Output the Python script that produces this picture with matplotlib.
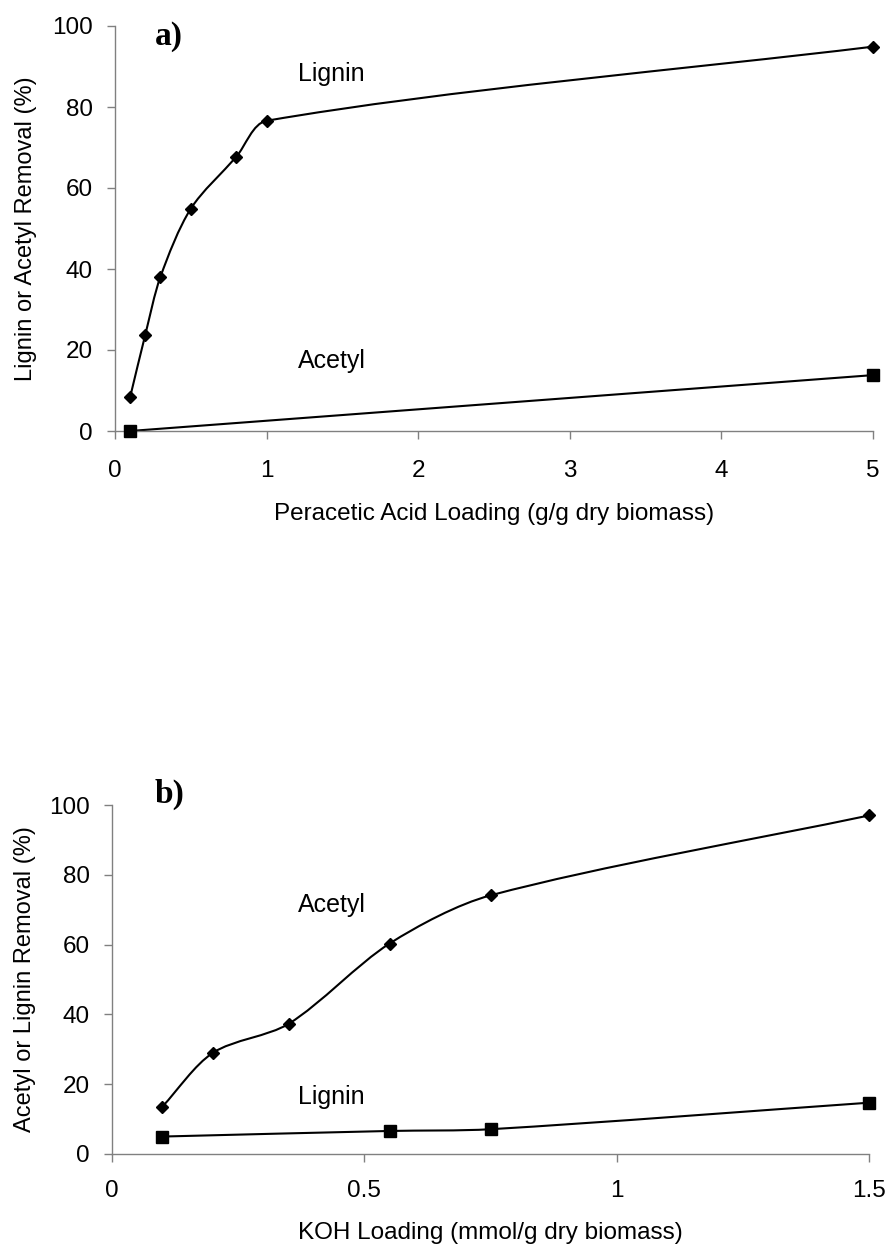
import numpy as np
import matplotlib
matplotlib.use("Agg")
import matplotlib.pyplot as plt
from matplotlib.path import Path
from matplotlib.patches import PathPatch

# ---------------- data ----------------
# Panel a: peracetic acid loading (g/g dry biomass)
a_lignin_x = [0.1, 0.2, 0.3, 0.5, 0.8, 1.0, 5.0]
a_lignin_y = [8.4, 23.8, 38.1, 54.9, 67.7, 76.6, 94.9]
a_acetyl_x = [0.1, 5.0]
a_acetyl_y = [0.0, 13.8]
a_xticks = [0, 1, 2, 3, 4, 5]
a_xticklabels = ["0", "1", "2", "3", "4", "5"]

# Panel b: KOH loading (mmol/g dry biomass)
b_acetyl_x = [0.1, 0.2, 0.35, 0.55, 0.75, 1.5]
b_acetyl_y = [13.6, 29.0, 37.3, 60.3, 74.1, 97.0]
b_lignin_x = [0.1, 0.55, 0.75, 1.5]
b_lignin_y = [5.0, 6.6, 7.1, 14.7]
b_xticks = [0, 0.5, 1, 1.5]
b_xticklabels = ["0", "0.5", "1", "1.5"]

y_ticks = [0, 20, 40, 60, 80, 100]
y_ticklabels = ["0", "20", "40", "60", "80", "100"]

# ---------------- style ----------------
SANS = ["Liberation Sans", "DejaVu Sans"]
SERIF = ["Liberation Serif", "DejaVu Serif"]
plt.rcParams["font.family"] = SANS
GREY = "#808080"

W, H = 887, 1249
fig = plt.figure(figsize=(W / 100, H / 100), dpi=100)


def add_axes_px(l, t, r, b):
    return fig.add_axes([l / W, 1 - b / H, (r - l) / W, (b - t) / H])


def smooth_line(ax, xs, ys, k=0.3, lw=1.5):
    """Excel-like smoothed line: cubic Bezier segments with tangents
    computed in screen space."""
    x0, x1 = ax.get_xlim()
    y0, y1 = ax.get_ylim()
    pos = ax.get_position()
    sx = pos.width * W / (x1 - x0)
    sy = pos.height * H / (y1 - y0)
    P = np.column_stack([np.asarray(xs, float) * sx, np.asarray(ys, float) * sy])
    n = len(P)
    if n == 2:
        verts = [tuple(P[0]), tuple(P[1])]
        codes = [Path.MOVETO, Path.LINETO]
    else:
        D = []
        for i in range(n):
            a = P[max(i - 1, 0)]
            b = P[min(i + 1, n - 1)]
            t = b - a
            D.append(t / np.hypot(*t))
        verts = [tuple(P[0])]
        codes = [Path.MOVETO]
        for i in range(n - 1):
            L = np.hypot(*(P[i + 1] - P[i]))
            c1 = P[i] + D[i] * L * k
            c2 = P[i + 1] - D[i + 1] * L * k
            verts += [tuple(c1), tuple(c2), tuple(P[i + 1])]
            codes += [Path.CURVE4] * 3
    verts = [(vx / sx, vy / sy) for vx, vy in verts]
    patch = PathPatch(Path(verts, codes), facecolor="none", edgecolor="black",
                      lw=lw, transform=ax.transData, clip_on=False, zorder=2,
                      capstyle="round", joinstyle="round")
    ax.add_patch(patch)


def style_axes(ax, xlim, xticks, xticklabels, xpad):
    ax.set_xlim(*xlim)
    ax.set_ylim(0, 100)
    ax.set_xticks(xticks)
    ax.set_xticklabels(xticklabels)
    ax.set_yticks(y_ticks)
    ax.set_yticklabels(y_ticklabels)
    for s in ("top", "right"):
        ax.spines[s].set_visible(False)
    for s in ("left", "bottom"):
        ax.spines[s].set_color(GREY)
        ax.spines[s].set_linewidth(1.0)
    ax.tick_params(axis="both", direction="out", length=6, width=1.0,
                   color=GREY, labelsize=17.5, labelcolor="black")
    ax.tick_params(axis="x", pad=xpad)
    ax.tick_params(axis="y", pad=10)
    ax.patch.set_alpha(0)


# ---------------- panel a ----------------
axA = add_axes_px(115, 26, 873, 431)
style_axes(axA, (0, 5), a_xticks, a_xticklabels, 15)
smooth_line(axA, a_lignin_x, a_lignin_y)
smooth_line(axA, a_acetyl_x, a_acetyl_y)
axA.plot(a_lignin_x, a_lignin_y, ls="none", marker="D", ms=6,
         color="black", clip_on=False, zorder=3)
axA.plot(a_acetyl_x, a_acetyl_y, ls="none", marker="s", ms=9,
         color="black", clip_on=False, zorder=3)
axA.text(0.26, 95.3, "a)", family=SERIF, fontweight="bold", fontsize=24,
         ha="left", va="baseline")
axA.text(1.21, 86.4, "Lignin", fontsize=18, ha="left", va="baseline")
axA.text(1.21, 15.5, "Acetyl", fontsize=18, ha="left", va="baseline")
axA.text(-0.117, 0.5, "Lignin or Acetyl Removal (%)", transform=axA.transAxes,
         rotation=90, ha="center", va="center", fontsize=17)
axA.text(0.5, -0.204, "Peracetic Acid Loading (g/g dry biomass)",
         transform=axA.transAxes, ha="center", va="center", fontsize=17.5)

# ---------------- panel b ----------------
axB = add_axes_px(112, 805, 869, 1154)
style_axes(axB, (0, 1.5), b_xticks, b_xticklabels, 13)
smooth_line(axB, b_acetyl_x, b_acetyl_y)
smooth_line(axB, b_lignin_x, b_lignin_y)
axB.plot(b_acetyl_x, b_acetyl_y, ls="none", marker="D", ms=6,
         color="black", clip_on=False, zorder=3)
axB.plot(b_lignin_x, b_lignin_y, ls="none", marker="s", ms=9,
         color="black", clip_on=False, zorder=3)
axB.text(0.085, 100.5, "b)", family=SERIF, fontweight="bold", fontsize=24,
         ha="left", va="baseline", clip_on=False)
axB.text(0.368, 69.4, "Acetyl", fontsize=18, ha="left", va="baseline")
axB.text(0.368, 14.3, "Lignin", fontsize=18, ha="left", va="baseline")
axB.text(-0.115, 0.5, "Acetyl or Lignin Removal (%)", transform=axB.transAxes,
         rotation=90, ha="center", va="center", fontsize=17)
axB.text(0.5, -0.226, "KOH Loading (mmol/g dry biomass)",
         transform=axB.transAxes, ha="center", va="center", fontsize=17.5)

fig.savefig("out.png", dpi=100)
